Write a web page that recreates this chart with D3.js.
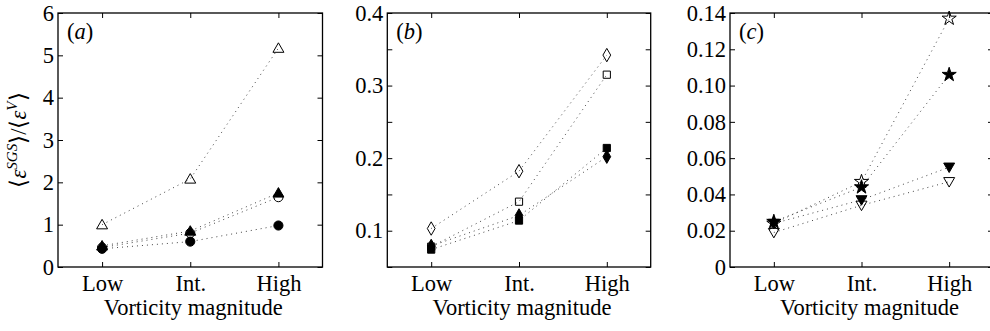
<!DOCTYPE html>
<html lang="en">
<head>
<meta charset="utf-8">
<title>Vorticity magnitude</title>
<script src="https://cdn.jsdelivr.net/npm/d3@7"></script>
<style>
  body { margin: 0; background: #fff; }
  text { font-family: "Liberation Serif", "Times New Roman", serif; fill: #000; }
</style>
</head>
<body>
<script>
// categories along the x axis
var categories = ["Low", "Int.", "High"];

// panel (a)
var aOpenTri  = [1.00, 2.08, 5.17];
var aFillTri  = [0.50, 0.85, 1.75];
var aOpenCirc = [0.46, 0.80, 1.65];
var aFillCirc = [0.43, 0.60, 0.98];
var aTicks = [0, 1, 2, 3, 4, 5, 6];

// panel (b)
var bOpenDia = [0.103, 0.182, 0.342];
var bOpenSq  = [0.078, 0.140, 0.315];
var bFillSq  = [0.074, 0.114, 0.214];
var bFillDia = [0.079, 0.121, 0.202];
var bTicks = [0.05, 0.1, 0.15, 0.2, 0.25, 0.3, 0.35, 0.4];

// panel (c)
var cOpenStar  = [0.024, 0.047, 0.137];
var cFillStar  = [0.025, 0.044, 0.106];
var cFillTriDn = [0.024, 0.037, 0.055];
var cOpenTriDn = [0.019, 0.034, 0.047];
var cTicks = [0, 0.02, 0.04, 0.06, 0.08, 0.10, 0.12, 0.14];

var w = 990, h = 331;
var yTop = 13, yBottom = 267;
var fs = "22.5px";

var svg = d3.select("body").append("svg")
  .attr("width", w)
  .attr("height", h);

// marker shapes
var shapes = {
  triUp:   { type: d3.symbolTriangle, size: 52, rot: 0,   dy: 1 },
  triDn:   { type: d3.symbolTriangle, size: 52, rot: 180, dy: -1 },
  circle:  { type: d3.symbolCircle,   size: 66, rot: 0,   dy: 0 },
  square:  { type: d3.symbolSquare,   size: 52, rot: 0,   dy: 0 },
  diamond: { type: d3.symbolDiamond,  size: 52, rot: 0,   dy: 0 },
  star:    { type: d3.symbolStar,     size: 62, rot: 0,   dy: 0 }
};

function drawPanel(p) {
  var x = d3.scaleLinear().domain([0.5, 3.5]).range([p.left, p.right]);
  var y = d3.scaleLinear().domain(p.domain).range([yBottom, yTop]);
  var g = svg.append("g");

  // dotted connecting lines
  var line = d3.line()
    .x(function(d, i) { return x(i + 1); })
    .y(function(d) { return y(d); });

  p.series.forEach(function(s) {
    g.append("path")
      .attr("d", line(s.values))
      .attr("fill", "none")
      .attr("stroke", "#444")
      .attr("stroke-width", 1)
      .attr("stroke-dasharray", "1,4");
  });

  // markers
  p.series.forEach(function(s) {
    var sh = shapes[s.shape];
    g.selectAll(null)
      .data(s.values)
      .enter()
      .append("path")
      .attr("d", d3.symbol().type(sh.type).size(sh.size))
      .attr("transform", function(d, i) {
        return "translate(" + x(i + 1) + "," + (y(d) + sh.dy) + ") rotate(" + sh.rot + ")";
      })
      .attr("fill", s.filled ? "#000" : "none")
      .attr("stroke", "#000")
      .attr("stroke-width", 1);
  });

  // axes, ticks pointing inward
  var left = g.append("g")
    .attr("transform", "translate(" + p.left + ",0)")
    .call(d3.axisLeft(y).tickValues(p.ticks).tickSize(-5).tickPadding(4).tickFormat(p.fmt));
  var right = g.append("g")
    .attr("transform", "translate(" + p.right + ",0)")
    .call(d3.axisRight(y).tickValues(p.ticks).tickSize(-5).tickFormat(""));
  var bot = g.append("g")
    .attr("transform", "translate(0," + yBottom + ")")
    .call(d3.axisBottom(x).tickValues([1, 2, 3]).tickSize(-5).tickPadding(8)
      .tickFormat(function(d) { return categories[d - 1]; }));
  var tp = g.append("g")
    .attr("transform", "translate(0," + yTop + ")")
    .call(d3.axisTop(x).tickValues([1, 2, 3]).tickSize(-5).tickFormat(""));

  [left, right, bot, tp].forEach(function(a) {
    a.select(".domain").remove();
    a.selectAll("line").attr("stroke", "#000").attr("stroke-width", 1);
    a.selectAll("text").attr("font-size", fs).attr("font-family", "Liberation Serif");
  });

  g.append("rect")
    .attr("x", p.left)
    .attr("y", yTop)
    .attr("width", p.right - p.left)
    .attr("height", yBottom - yTop)
    .attr("fill", "none")
    .attr("stroke", "#000")
    .attr("stroke-width", 1.3);

  // panel letter
  var lab = g.append("text")
    .attr("x", p.left + 9)
    .attr("y", yTop + 26)
    .attr("font-size", fs);
  lab.append("tspan").text("(");
  lab.append("tspan").attr("font-style", "italic").text(p.letter);
  lab.append("tspan").text(")");

  // x label
  g.append("text")
    .attr("x", (p.left + p.right) / 2 + p.xlabOff)
    .attr("y", 315)
    .attr("text-anchor", "middle")
    .attr("font-size", fs)
    .text("Vorticity magnitude");
}

var intFmt = function(d) { return String(d); };
var bFmt = function(d) {
  return Math.abs(d * 10 - Math.round(d * 10)) < 1e-6 ? d.toFixed(1) : "";
};
var cFmt = function(d) { return d === 0 ? "0" : d.toFixed(2); };

drawPanel({
  left: 58, right: 322.5, domain: [0, 6], ticks: aTicks, fmt: intFmt, letter: "a", xlabOff: 3,
  series: [
    { values: aOpenTri, shape: "triUp", filled: false },
    { values: aOpenCirc, shape: "circle", filled: false },
    { values: aFillCirc, shape: "circle", filled: true },
    { values: aFillTri, shape: "triUp", filled: true }
  ]
});

drawPanel({
  left: 387.3, right: 650.7, domain: [0.05, 0.4], ticks: bTicks, fmt: bFmt, letter: "b", xlabOff: 3,
  series: [
    { values: bOpenDia, shape: "diamond", filled: false },
    { values: bOpenSq, shape: "square", filled: false },
    { values: bFillSq, shape: "square", filled: true },
    { values: bFillDia, shape: "diamond", filled: true }
  ]
});

drawPanel({
  left: 730, right: 993, domain: [0, 0.14], ticks: cTicks, fmt: cFmt, letter: "c", xlabOff: 8,
  series: [
    { values: cOpenStar, shape: "star", filled: false },
    { values: cFillStar, shape: "star", filled: true },
    { values: cFillTriDn, shape: "triDn", filled: true },
    { values: cOpenTriDn, shape: "triDn", filled: false }
  ]
});

// y label of the first panel
var yl = svg.append("text")
  .attr("transform", "translate(26," + ((yTop + yBottom) / 2) + ") rotate(-90)")
  .attr("text-anchor", "middle")
  .attr("font-size", fs);
yl.append("tspan").text("\u27E8");
yl.append("tspan").attr("font-style", "italic").text("\u03B5");
yl.append("tspan").attr("font-style", "italic").attr("font-size", "15px").attr("dy", -9).text("SGS");
yl.append("tspan").attr("dy", 9).text("\u27E9/\u27E8");
yl.append("tspan").attr("font-style", "italic").text("\u03B5");
yl.append("tspan").attr("font-style", "italic").attr("font-size", "15px").attr("dy", -9).text("V");
yl.append("tspan").attr("dy", 9).text("\u27E9");
</script>
</body>
</html>
